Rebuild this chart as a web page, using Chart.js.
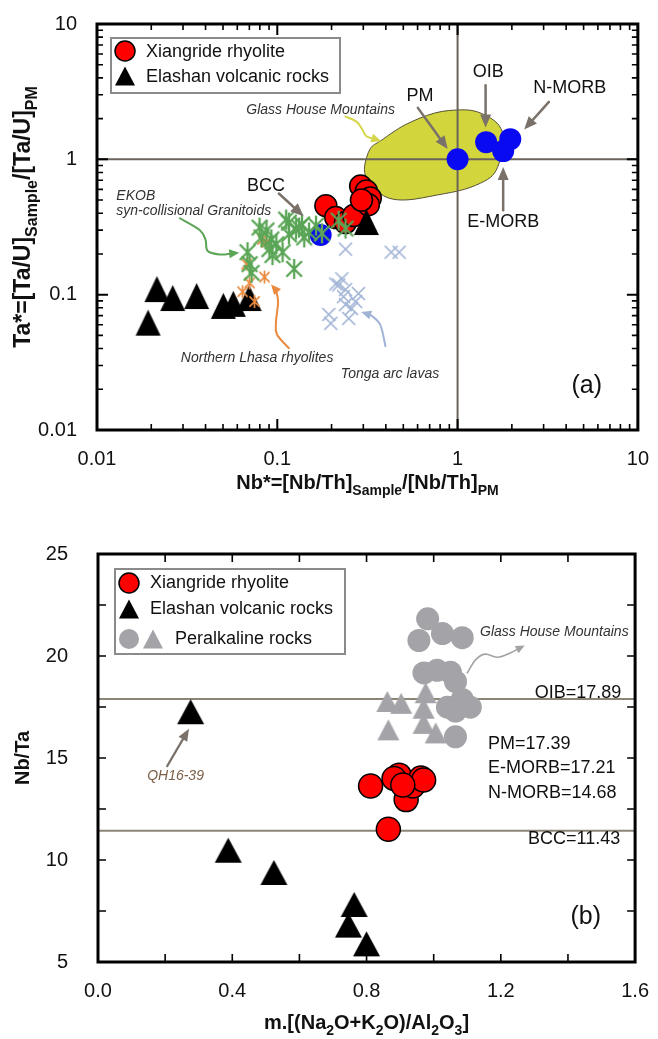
<!DOCTYPE html>
<html>
<head>
<meta charset="utf-8">
<script src="https://cdn.jsdelivr.net/npm/chart.js@4.4.1/dist/chart.umd.min.js"></script>
<style>
  html, body { margin: 0; padding: 0; background: #fff; }
  canvas { display: block; }
</style>
</head>
<body>
<canvas id="panelA" width="658" height="520"></canvas>
<canvas id="panelB" width="658" height="519"></canvas>
<script>
const FONT = "'Liberation Sans', Arial, Helvetica, sans-serif";

// ---------------- Panel (a): Nb* vs Ta* ----------------
const xiangrideA = [[0.186,0.454],[0.211,0.371],[0.239,0.341],[0.265,0.384],[0.290,0.635],
                    [0.312,0.584],[0.328,0.519],[0.320,0.462],[0.293,0.500]];
const elashanA = [[0.0215,0.110],[0.0192,0.0621],[0.0263,0.0944],[0.0357,0.0977],[0.0502,0.0826],
                  [0.057,0.0855],[0.0698,0.0944],[0.312,0.344]];
const reservoirNamesA = ['PM','OIB','N-MORB','E-MORB','BCC'];
const reservoirValuesA = [[1.0,1.0],[1.44,1.34],[1.96,1.41],[1.79,1.15],[0.174,0.276]];
const ekobA = [[0.0797,0.313],[0.0871,0.298],[0.0927,0.256],[0.0684,0.206],[0.0702,0.168],[0.0720,0.145],
               [0.0988,0.236],[0.107,0.206],[0.094,0.196],[0.116,0.341],[0.127,0.303],[0.137,0.330],
               [0.116,0.279],[0.112,0.359],[0.150,0.288],[0.164,0.324],[0.177,0.284],[0.219,0.353],
               [0.239,0.308],[0.124,0.155],[0.0904,0.217],[0.132,0.313],[0.0817,0.265],[0.141,0.265]];
const lhasaA = [[0.0871,0.244],[0.0849,0.135],[0.0702,0.122],[0.0642,0.105],[0.0676,0.168],
                [0.0827,0.256],[0.0748,0.089]];
const tongaA = [[0.239,0.217],[0.428,0.206],[0.474,0.206],[0.228,0.131],[0.219,0.118],[0.239,0.109],
                [0.282,0.102],[0.239,0.0845],[0.258,0.079],[0.249,0.0668],[0.193,0.0714],[0.198,0.0614],
                [0.211,0.120],[0.272,0.089],[0.233,0.0967]];
// Glass House Mountains field outline
const ghmFieldA = [[0.305,0.889],[0.328,1.20],[0.377,1.38],[0.512,1.80],[0.748,2.20],[1.04,2.32],
                   [1.29,2.24],[1.60,1.93],[1.77,1.60],[1.81,1.24],[1.72,0.98],[1.60,0.79],[1.41,0.69],
                   [1.09,0.60],[0.776,0.546],[0.531,0.502],[0.412,0.519],[0.341,0.614],[0.312,0.726]];
const unityA = 1;
const logLabelsA = [0.01, 0.1, 1, 10];

// ---------------- Panel (b): m vs Nb/Ta ----------------
const xiangrideB = [[0.812,13.63],[0.865,11.51],[0.897,14.16],[0.882,14.0],[0.918,12.96],
                    [0.938,13.63],[0.962,14.02],[0.97,13.92],[0.908,13.68]];
const elashanB = [[0.276,17.27],[0.388,10.48],[0.524,9.39],[0.763,7.82],[0.746,6.81],[0.80,5.89]];
const peralkCirclesB = [[0.982,21.82],[0.956,20.76],[1.026,21.1],[1.085,20.9],[0.971,19.17],[1.01,19.3],
                        [1.05,19.2],[1.065,18.74],[1.085,17.87],[1.041,17.49],[1.109,17.49],[1.065,17.3],
                        [1.065,16.04]];
const peralkTrianglesB = [[0.862,17.77],[0.903,17.68],[0.976,18.2],[0.97,17.44],[0.97,16.7],
                          [0.865,16.38],[1.006,16.23]];
const reservoirNamesB = ['OIB','PM','E-MORB','N-MORB','BCC'];
const reservoirValuesB = [17.89, 17.39, 17.21, 14.68, 11.43];
const xLabelsB = [0.0, 0.4, 0.8, 1.2, 1.6];
const yLabelsB = [5, 10, 15, 20, 25];

// ---------------- helpers ----------------
const toXY = arr => arr.map(([x, y]) => ({ x, y }));

function triangleMark(w, h, color) {
  const c = document.createElement('canvas');
  c.width = w + 2; c.height = h + 2;
  const g = c.getContext('2d');
  g.fillStyle = color;
  g.beginPath();
  g.moveTo((w + 2) / 2, 1); g.lineTo(w + 1, h + 1); g.lineTo(1, h + 1);
  g.closePath(); g.fill();
  return c;
}
function asteriskMark(size, color, lw) {
  const c = document.createElement('canvas');
  const s = size + 4; c.width = s; c.height = s;
  const g = c.getContext('2d');
  const m = s / 2, r = size / 2, d = r * 0.78;
  g.strokeStyle = color; g.lineWidth = lw; g.lineCap = 'butt';
  g.beginPath();
  g.moveTo(m, m - r); g.lineTo(m, m + r);
  g.moveTo(m - d, m - d); g.lineTo(m + d, m + d);
  g.moveTo(m - d, m + d); g.lineTo(m + d, m - d);
  g.stroke();
  return c;
}
function crossMark(size, color, lw) {
  const c = document.createElement('canvas');
  const s = size + 4; c.width = s; c.height = s;
  const g = c.getContext('2d');
  const m = s / 2, r = size / 2;
  g.strokeStyle = color; g.lineWidth = lw;
  g.beginPath();
  g.moveTo(m - r, m - r); g.lineTo(m + r, m + r);
  g.moveTo(m - r, m + r); g.lineTo(m + r, m - r);
  g.stroke();
  return c;
}

function px(chart, p) {
  return { x: chart.scales.x.getPixelForValue(p[0]), y: chart.scales.y.getPixelForValue(p[1]) };
}
function smoothClosed(ctx, pts) {
  const n = pts.length;
  ctx.moveTo(pts[0].x, pts[0].y);
  for (let i = 0; i < n; i++) {
    const p0 = pts[(i - 1 + n) % n], p1 = pts[i], p2 = pts[(i + 1) % n], p3 = pts[(i + 2) % n];
    ctx.bezierCurveTo(p1.x + (p2.x - p0.x) / 6, p1.y + (p2.y - p0.y) / 6,
                      p2.x - (p3.x - p1.x) / 6, p2.y - (p3.y - p1.y) / 6, p2.x, p2.y);
  }
  ctx.closePath();
}
function smoothOpen(ctx, pts) {
  const n = pts.length;
  ctx.moveTo(pts[0].x, pts[0].y);
  for (let i = 0; i < n - 1; i++) {
    const p0 = pts[Math.max(i - 1, 0)], p1 = pts[i], p2 = pts[i + 1], p3 = pts[Math.min(i + 2, n - 1)];
    ctx.bezierCurveTo(p1.x + (p2.x - p0.x) / 6, p1.y + (p2.y - p0.y) / 6,
                      p2.x - (p3.x - p1.x) / 6, p2.y - (p3.y - p1.y) / 6, p2.x, p2.y);
  }
}
function arrow(chart, path, color, lw, headLen, headW) {
  const ctx = chart.ctx;
  const pts = path.map(p => px(chart, p));
  const n = pts.length;
  const tip = pts[n - 1], prev = pts[n - 2];
  const ang = Math.atan2(tip.y - prev.y, tip.x - prev.x);
  // shorten the shaft so it ends inside the head
  const shaft = pts.slice();
  shaft[n - 1] = { x: tip.x - Math.cos(ang) * headLen * 0.7, y: tip.y - Math.sin(ang) * headLen * 0.7 };
  ctx.save();
  ctx.strokeStyle = color; ctx.fillStyle = color; ctx.lineWidth = lw; ctx.lineCap = 'round';
  ctx.beginPath(); smoothOpen(ctx, shaft); ctx.stroke();
  ctx.beginPath();
  ctx.moveTo(tip.x, tip.y);
  ctx.lineTo(tip.x - Math.cos(ang) * headLen - Math.sin(ang) * headW / 2,
             tip.y - Math.sin(ang) * headLen + Math.cos(ang) * headW / 2);
  ctx.lineTo(tip.x - Math.cos(ang) * headLen + Math.sin(ang) * headW / 2,
             tip.y - Math.sin(ang) * headLen - Math.cos(ang) * headW / 2);
  ctx.closePath(); ctx.fill();
  ctx.restore();
}
function label(chart, text, at, font, color, align) {
  const ctx = chart.ctx, p = px(chart, at);
  ctx.save();
  ctx.font = font; ctx.fillStyle = color; ctx.textAlign = align || 'center'; ctx.textBaseline = 'middle';
  ctx.fillText(text, p.x, p.y);
  ctx.restore();
}
// bold title with subscripts; parts = [[text, isSub], ...]
function richTitle(ctx, parts, cx, cy, size, rot) {
  const sub = Math.round(size * 0.68);
  ctx.save();
  ctx.translate(cx, cy); ctx.rotate(rot || 0);
  ctx.fillStyle = '#111'; ctx.textBaseline = 'alphabetic'; ctx.textAlign = 'left';
  const widths = parts.map(([t, s]) => { ctx.font = `bold ${s ? sub : size}px ${FONT}`; return ctx.measureText(t).width; });
  let x = -widths.reduce((a, b) => a + b, 0) / 2;
  const base = size * 0.36;
  parts.forEach(([t, s], i) => {
    ctx.font = `bold ${s ? sub : size}px ${FONT}`;
    ctx.fillText(t, x, s ? base + size * 0.28 : base);
    x += widths[i];
  });
  ctx.restore();
}
function frame(chart) {
  const { ctx, chartArea: a } = chart;
  ctx.save();
  ctx.strokeStyle = '#000'; ctx.lineWidth = 3;
  ctx.strokeRect(a.left, a.top, a.right - a.left, a.bottom - a.top);
  ctx.restore();
}
function tickMarks(chart, xVals, yVals) {
  const { ctx, chartArea: a, scales } = chart;
  ctx.save();
  ctx.strokeStyle = '#000';
  xVals.forEach(([v, len]) => {
    const x = scales.x.getPixelForValue(v);
    ctx.lineWidth = len > 8 ? 2 : 1.6;
    ctx.beginPath();
    ctx.moveTo(x, a.bottom); ctx.lineTo(x, a.bottom - len);
    ctx.moveTo(x, a.top); ctx.lineTo(x, a.top + len);
    ctx.stroke();
  });
  yVals.forEach(([v, len]) => {
    const y = scales.y.getPixelForValue(v);
    ctx.lineWidth = len > 8 ? 2 : 1.6;
    ctx.beginPath();
    ctx.moveTo(a.left, y); ctx.lineTo(a.left + len, y);
    ctx.moveTo(a.right, y); ctx.lineTo(a.right - len, y);
    ctx.stroke();
  });
  ctx.restore();
}
function legendBox(ctx, x, y, w, h) {
  ctx.save();
  ctx.fillStyle = '#fff'; ctx.fillRect(x, y, w, h);
  ctx.strokeStyle = '#8a8a8a'; ctx.lineWidth = 2; ctx.strokeRect(x, y, w, h);
  ctx.restore();
}
function legendText(ctx, text, x, y) {
  ctx.save();
  ctx.font = `18px ${FONT}`; ctx.fillStyle = '#111'; ctx.textBaseline = 'middle'; ctx.textAlign = 'left';
  ctx.fillText(text, x, y);
  ctx.restore();
}
function legendCircle(ctx, x, y, r, fill, stroke) {
  ctx.save();
  ctx.beginPath(); ctx.arc(x, y, r, 0, Math.PI * 2);
  ctx.fillStyle = fill; ctx.fill();
  if (stroke) { ctx.strokeStyle = stroke; ctx.lineWidth = 1.5; ctx.stroke(); }
  ctx.restore();
}
function legendTriangle(ctx, x, y, w, h, fill) {
  ctx.save();
  ctx.beginPath(); ctx.moveTo(x, y - h / 2); ctx.lineTo(x + w / 2, y + h / 2); ctx.lineTo(x - w / 2, y + h / 2);
  ctx.closePath(); ctx.fillStyle = fill; ctx.fill();
  ctx.restore();
}

const ITALIC = `italic 14px ${FONT}`;
const ARROW_GREY = '#7a726a';

// ---------------- panel (a) decorations ----------------
const decorA = {
  id: 'decorA',
  beforeDatasetsDraw(chart) {
    const { ctx, chartArea: a, scales } = chart;
    ctx.save();
    ctx.beginPath(); smoothClosed(ctx, ghmFieldA.map(p => px(chart, p)));
    ctx.fillStyle = '#d3d53c'; ctx.fill();
    ctx.strokeStyle = '#55523a'; ctx.lineWidth = 1; ctx.stroke();
    // normalisation lines at Nb* = 1 and Ta* = 1
    ctx.strokeStyle = '#6b645b'; ctx.lineWidth = 2;
    const ux = scales.x.getPixelForValue(unityA), uy = scales.y.getPixelForValue(unityA);
    ctx.beginPath();
    ctx.moveTo(ux, a.top); ctx.lineTo(ux, a.bottom);
    ctx.moveTo(a.left, uy); ctx.lineTo(a.right, uy);
    ctx.stroke();
    ctx.restore();
  },
  afterDatasetsDraw(chart) {
    // reservoir call-outs
    arrow(chart, [[0.602,2.40],[0.881,1.19]], ARROW_GREY, 2.5, 13, 11);
    arrow(chart, [[1.43,3.53],[1.43,1.72]], ARROW_GREY, 2.5, 13, 11);
    arrow(chart, [[3.21,2.66],[2.34,1.66]], ARROW_GREY, 2.5, 13, 11);
    arrow(chart, [[1.79,0.42],[1.79,0.879]], ARROW_GREY, 2.5, 13, 11);
    arrow(chart, [[0.102,0.559],[0.140,0.380]], ARROW_GREY, 2.5, 13, 11);
    const namePos = [[0.618,2.94],[1.48,4.40],[4.19,3.36],[1.79,0.345],[0.0867,0.639]];
    reservoirNamesA.forEach((n, i) => label(chart, n, namePos[i], `18px ${FONT}`, '#111'));
    // field call-outs
    arrow(chart, [[0.239,2.07],[0.275,1.90],[0.296,1.66],[0.312,1.48],[0.377,1.36]], '#d6d64a', 2, 10, 9);
    label(chart, 'Glass House Mountains', [0.0673,2.32], ITALIC, '#333', 'left');
    arrow(chart, [[0.0288,0.367],[0.0371,0.301],[0.040,0.254],[0.041,0.211],[0.0478,0.198],[0.0615,0.204]],
          '#5aa556', 2, 10, 9);
    label(chart, 'EKOB', [0.0128,0.531], ITALIC, '#333', 'left');
    label(chart, 'syn-collisional Granitoids', [0.0128,0.413], ITALIC, '#333', 'left');
    arrow(chart, [[0.116,0.0403],[0.0996,0.0508],[0.0984,0.0631],[0.101,0.0883],[0.0984,0.108],[0.0923,0.119]],
          '#ea8a3f', 2, 10, 9);
    label(chart, 'Northern Lhasa rhyolites', [0.0773,0.034], ITALIC, '#333');
    arrow(chart, [[0.398,0.0416],[0.372,0.060],[0.328,0.071],[0.292,0.0746]], '#a2b4d6', 2, 10, 9);
    label(chart, 'Tonga arc lavas', [0.422,0.026], ITALIC, '#333');
    label(chart, '(a)', [5.2,0.0212], `25px ${FONT}`, '#111');
  },
  afterDraw(chart) {
    const { ctx, chartArea: a } = chart;
    frame(chart);
    const marks = [];
    for (let e = -2; e <= 0; e++) for (let m = 1; m <= 9; m++) marks.push([m * Math.pow(10, e), m === 1 ? 11 : 6]);
    marks.push([10, 11]);
    tickMarks(chart, marks, marks);
    richTitle(ctx, [['Nb*=[Nb/Th]', 0], ['Sample', 1], ['/[Nb/Th]', 0], ['PM', 1]], (a.left + a.right) / 2, 482, 20);
    richTitle(ctx, [['Ta*=[Ta/U]', 0], ['Sample', 1], ['/[Ta/U]', 0], ['PM', 1]], 22, (a.top + a.bottom) / 2 - 10, 23, -Math.PI / 2);
    // legend
    const lx = a.left + 14, ly = a.top + 14;
    legendBox(ctx, lx, ly, 229, 55);
    legendCircle(ctx, lx + 14, ly + 13, 10, '#ff0000', '#000');
    legendText(ctx, 'Xiangride rhyolite', lx + 35, ly + 14);
    legendTriangle(ctx, lx + 14, ly + 38, 20, 19, '#000');
    legendText(ctx, 'Elashan volcanic rocks', lx + 35, ly + 39);
  }
};

const logLabel = v => {
  const t = logLabelsA.find(k => Math.abs(v - k) / k < 1e-6);
  return t === undefined ? null : String(t);
};

new Chart(document.getElementById('panelA'), {
  type: 'scatter',
  data: {
    datasets: [
      { label: 'EKOB syn-collisional Granitoids', data: toXY(ekobA), pointStyle: asteriskMark(20, '#5aa556', 2.3), pointRadius: 10 },
      { label: 'Northern Lhasa rhyolites', data: toXY(lhasaA), pointStyle: asteriskMark(13, '#ea8a3f', 1.7), pointRadius: 7 },
      { label: 'Elashan volcanic rocks', data: toXY(elashanA), pointStyle: triangleMark(25, 26, '#000'), pointRadius: 13 },
      { label: 'Xiangride rhyolite', data: toXY(xiangrideA), pointStyle: 'circle', pointRadius: 11,
        backgroundColor: '#ff0000', borderColor: '#000', borderWidth: 1.5 },
      { label: 'Reservoirs', data: toXY(reservoirValuesA), pointStyle: 'circle', pointRadius: 11,
        backgroundColor: '#0a0af2', borderColor: '#0a0af2', borderWidth: 0 },
      { label: 'Tonga arc lavas', data: toXY(tongaA), pointStyle: crossMark(13, '#a2b4d6', 1.7), pointRadius: 7 }
    ]
  },
  options: {
    responsive: false, animation: false, devicePixelRatio: 1,
    layout: { padding: { top: 18, right: 16, left: 0, bottom: 0 } },
    plugins: { legend: { display: false }, tooltip: { enabled: false } },
    scales: {
      x: {
        type: 'logarithmic', min: 0.01, max: 10,
        grid: { display: false }, border: { display: false },
        ticks: { autoSkip: false, maxRotation: 0, padding: 9, color: '#111', font: { family: FONT, size: 20 }, callback: logLabel },
        afterFit: s => { s.height = 90; }
      },
      y: {
        type: 'logarithmic', min: 0.01, max: 10,
        grid: { display: false }, border: { display: false },
        ticks: { autoSkip: false, padding: 12, color: '#111', font: { family: FONT, size: 20 }, callback: logLabel },
        afterFit: s => { s.width = 97; }
      }
    }
  },
  plugins: [decorA]
});

// ---------------- panel (b) decorations ----------------
const decorB = {
  id: 'decorB',
  beforeDatasetsDraw(chart) {
    const { ctx, chartArea: a, scales } = chart;
    ctx.save();
    ctx.strokeStyle = '#8c8476'; ctx.lineWidth = 2;
    ['OIB', 'BCC'].forEach(n => {
      const y = scales.y.getPixelForValue(reservoirValuesB[reservoirNamesB.indexOf(n)]);
      ctx.beginPath(); ctx.moveTo(a.left, y); ctx.lineTo(a.right, y); ctx.stroke();
    });
    ctx.restore();
  },
  afterDatasetsDraw(chart) {
    const txt = i => `${reservoirNamesB[i]}=${reservoirValuesB[i].toFixed(2)}`;
    const F = `18px ${FONT}`;
    label(chart, txt(0), [1.559,18.2], F, '#111', 'right');
    label(chart, txt(1), [1.162,15.70], F, '#111', 'left');
    label(chart, txt(2), [1.162,14.50], F, '#111', 'left');
    label(chart, txt(3), [1.162,13.29], F, '#111', 'left');
    label(chart, txt(4), [1.556,11.03], F, '#111', 'right');
    arrow(chart, [[1.10,19.17],[1.124,19.80],[1.153,20.09],[1.191,19.94],[1.226,20.13],[1.271,20.52]], '#a3a3a3', 1.6, 9, 8);
    label(chart, 'Glass House Mountains', [1.138,21.15], ITALIC, '#333', 'left');
    arrow(chart, [[0.206,14.60],[0.271,16.43]], ARROW_GREY, 2.2, 12, 10);
    label(chart, 'QH16-39', [0.231,14.11], ITALIC, '#7b5e45');
    label(chart, '(b)', [1.453,7.18], `25px ${FONT}`, '#111');
  },
  afterDraw(chart) {
    const { ctx, chartArea: a } = chart;
    frame(chart);
    const xm = [], ym = [];
    for (let i = 0; i <= 8; i++) xm.push([i * 0.2, 8]);
    for (let i = 0; i <= 8; i++) ym.push([5 + i * 2.5, 8]);
    tickMarks(chart, xm, ym);
    richTitle(ctx, [['m.[(Na', 0], ['2', 1], ['O+K', 0], ['2', 1], ['O)/Al', 0], ['2', 1], ['O', 0], ['3', 1], [']', 0]],
              (a.left + a.right) / 2, 502, 20);
    richTitle(ctx, [['Nb/Ta', 0]], 22, (a.top + a.bottom) / 2, 20, -Math.PI / 2);
    const lx = a.left + 17, ly = a.top + 15;
    legendBox(ctx, lx, ly, 230, 85);
    legendCircle(ctx, lx + 14, ly + 14, 10, '#ff0000', '#000');
    legendText(ctx, 'Xiangride rhyolite', lx + 35, ly + 14);
    legendTriangle(ctx, lx + 14, ly + 40, 20, 19, '#000');
    legendText(ctx, 'Elashan volcanic rocks', lx + 35, ly + 40);
    legendCircle(ctx, lx + 14, ly + 70, 10, '#a3a3a8');
    legendTriangle(ctx, lx + 38, ly + 70, 20, 19, '#a3a3a8');
    legendText(ctx, 'Peralkaline rocks', lx + 60, ly + 70);
  }
};

new Chart(document.getElementById('panelB'), {
  type: 'scatter',
  data: {
    datasets: [
      { label: 'Xiangride rhyolite', data: toXY(xiangrideB), pointStyle: 'circle', pointRadius: 12,
        backgroundColor: '#ff0000', borderColor: '#000', borderWidth: 1.5 },
      { label: 'Elashan volcanic rocks', data: toXY(elashanB), pointStyle: triangleMark(27, 25, '#000'), pointRadius: 13 },
      { label: 'Peralkaline rocks (triangles)', data: toXY(peralkTrianglesB), pointStyle: triangleMark(22, 21, '#a3a3a8'), pointRadius: 11 },
      { label: 'Peralkaline rocks (circles)', data: toXY(peralkCirclesB), pointStyle: 'circle', pointRadius: 11.5,
        backgroundColor: '#a3a3a8', borderColor: '#a3a3a8', borderWidth: 0 }
    ]
  },
  options: {
    responsive: false, animation: false, devicePixelRatio: 1,
    layout: { padding: { top: 27, right: 16, left: 0, bottom: 0 } },
    plugins: { legend: { display: false }, tooltip: { enabled: false } },
    scales: {
      x: {
        type: 'linear', min: 0, max: 1.6,
        grid: { display: false }, border: { display: false },
        afterBuildTicks: s => { s.ticks = xLabelsB.map(v => ({ value: v })); },
        ticks: { autoSkip: false, maxRotation: 0, padding: 9, color: '#111', font: { family: FONT, size: 20 },
                 callback: v => Number(v).toFixed(1) },
        afterFit: s => { s.height = 77; }
      },
      y: {
        type: 'linear', min: 5, max: 25,
        grid: { display: false }, border: { display: false },
        afterBuildTicks: s => { s.ticks = yLabelsB.map(v => ({ value: v })); },
        ticks: { autoSkip: false, padding: 22, color: '#111', font: { family: FONT, size: 20 } },
        afterFit: s => { s.width = 98; }
      }
    }
  },
  plugins: [decorB]
});
</script>
</body>
</html>
